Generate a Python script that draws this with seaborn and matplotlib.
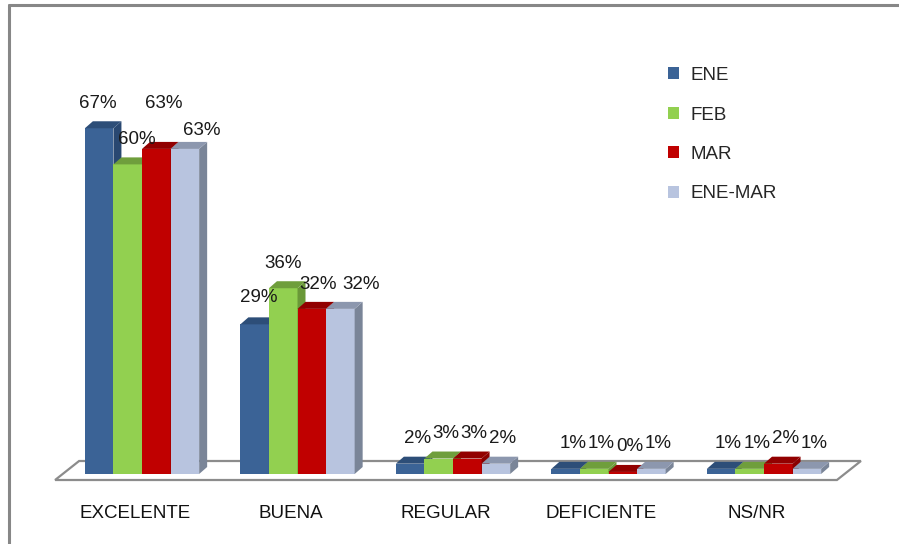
import matplotlib

matplotlib.use("Agg")
import matplotlib.pyplot as plt
import matplotlib.transforms as mtransforms
import numpy as np
import pandas as pd
import seaborn as sns
from matplotlib.lines import Line2D
from matplotlib.patches import Polygon

categories = ["EXCELENTE", "BUENA", "REGULAR", "DEFICIENTE", "NS/NR"]
months = ["ENE", "FEB", "MAR", "ENE-MAR"]
ene = [67, 29, 2, 1, 1]
feb = [60, 36, 3, 1, 1]
mar = [63, 32, 3, 0.4, 2]
ene_mar = [63, 32, 2, 1, 1]

# front / top / side shades (Excel 3D look)
FRONT = ["#3B6396", "#92D050", "#C00000", "#B8C4DF"]
TOP = ["#2D4E78", "#6F9E3C", "#920000", "#8C97AE"]
SIDE = ["#294871", "#6A9838", "#8A0000", "#7A8598"]

# label nudges (pixels) where Excel moved labels apart
LABEL_OFFSET = {
    ("EXCELENTE", "ENE"): (-1, 25),
    ("EXCELENTE", "FEB"): (9, 25),
    ("EXCELENTE", "MAR"): (7, 45),
    ("EXCELENTE", "ENE-MAR"): (17, 18),
    ("BUENA", "ENE"): (4, 27),
    ("BUENA", "FEB"): (0, 25),
    ("BUENA", "MAR"): (6, 24),
    ("BUENA", "ENE-MAR"): (21, 24),
}

sns.set_theme(style="white")
plt.rcParams["font.family"] = ["Liberation Sans", "DejaVu Sans"]

df = pd.DataFrame({
    "cat": np.repeat(categories, len(months)),
    "mes": months * len(categories),
    "val": np.ravel(np.column_stack([ene, feb, mar, ene_mar])),
})

fig = plt.figure(figsize=(8.99, 5.44), dpi=100)
ax = fig.add_axes([40 / 899, 1 - 490 / 544, 840 / 899, 430 / 544])

sns.barplot(data=df, x="cat", y="val", hue="mes", order=categories,
            hue_order=months, palette=FRONT, width=0.735, saturation=1,
            linewidth=0, errorbar=None, ax=ax)

ax.set_xlim(-0.656, 4.746)
ax.set_ylim(-3.10, 80.23)

# pixel -> data scale
p0 = ax.transData.transform((0, 0))
p1 = ax.transData.transform((1, 1))
sx, sy = p1[0] - p0[0], p1[1] - p0[1]
DX, DY = 8 / sx, 7 / sy

# floor (outline only)
fx0, fx1 = -0.559, 4.469
fy0 = -6 / sy
fdx, fdy = 24 / sx, 19 / sy
floor = Polygon([(fx0, fy0), (fx1, fy0), (fx1 + fdx, fy0 + fdy), (fx0 + fdx, fy0 + fdy)],
                closed=True, facecolor="white", edgecolor="#8C8C8C", lw=1.6, zorder=1)
ax.add_patch(floor)

for i, cont in enumerate(ax.containers):
    for j, bar in enumerate(cont):
        x0, w, h = bar.get_x(), bar.get_width(), bar.get_height()
        bar.set_zorder(3 + i)
        top = Polygon([(x0, h), (x0 + w, h), (x0 + w + DX, h + DY), (x0 + DX, h + DY)],
                      closed=True, facecolor=TOP[i], lw=0, zorder=3 + i)
        side = Polygon([(x0 + w, 0), (x0 + w + DX, DY), (x0 + w + DX, h + DY), (x0 + w, h)],
                       closed=True, facecolor=SIDE[i], lw=0, zorder=3 + i)
        ax.add_patch(side)
        ax.add_patch(top)
        off = LABEL_OFFSET.get((categories[j], months[i]), (7, 25))
        ax.annotate(f"{h:.0f}%", (x0 + w / 2, h), xytext=off, textcoords="offset pixels",
                    ha="center", va="center", fontsize=13.5, color="#1a1a1a", zorder=20)

ax.set_xlabel("")
ax.set_ylabel("")
ax.set_yticks([])
ax.tick_params(axis="x", length=0, pad=11, labelsize=13.5, labelcolor="#111111")
shift = mtransforms.ScaledTranslation(-7 / 100, 0, fig.dpi_scale_trans)
for lab in ax.get_xticklabels():
    lab.set_transform(lab.get_transform() + shift)
for s in ax.spines.values():
    s.set_visible(False)
ax.patch.set_alpha(0)

handles, labels = ax.get_legend_handles_labels()
ax.legend(handles, labels, loc="upper left", bbox_to_anchor=(668 / 899, 1 - 67 / 544),
          bbox_transform=fig.transFigure, frameon=False, fontsize=13.5,
          handlelength=0.6, handleheight=0.6, handletextpad=0.6, labelspacing=1.2,
          borderpad=0, borderaxespad=0)

# outer chart border (top and left visible)
fig.add_artist(Line2D([9 / 899, 1], [1 - 5 / 544, 1 - 5 / 544], transform=fig.transFigure,
                      color="#878787", lw=2.2))
fig.add_artist(Line2D([9 / 899, 9 / 899], [0, 1 - 5 / 544], transform=fig.transFigure,
                      color="#878787", lw=2.2))

fig.savefig("out.png", dpi=100)
